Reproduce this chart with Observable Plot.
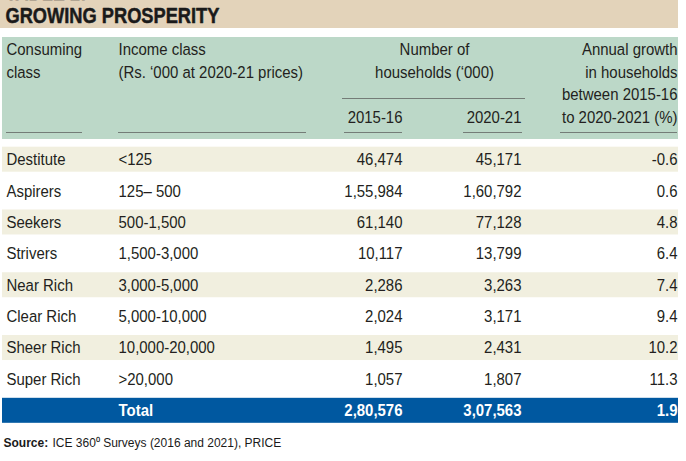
<!DOCTYPE html>
<html><head><meta charset="utf-8">
<script src="https://cdn.jsdelivr.net/npm/d3@7"></script>
<script src="https://cdn.jsdelivr.net/npm/@observablehq/plot@0.6"></script>
<style>body{margin:0;background:#fff;}</style>
</head><body><div id="chart"></div>
<script>
// ---- data ----
const tableLabel = "TABLE 2:";
const title = "GROWING PROSPERITY";
const classes = ["Destitute","Aspirers","Seekers","Strivers","Near Rich","Clear Rich","Sheer Rich","Super Rich"];
const incomeClass = ["<125","125\u2013 500","500-1,500","1,500-3,000","3,000-5,000","5,000-10,000","10,000-20,000",">20,000"];
const households2016 = [46474,155984,61140,10117,2286,2024,1495,1057];
const households2021 = [45171,160792,77128,13799,3263,3171,2431,1807];
const annualGrowth = [-0.6,0.6,4.8,6.4,7.4,9.4,10.2,11.3];
const totalLabel = "Total";
const total2016 = 280576, total2021 = 307563, totalGrowth = 1.9;
const headerCol1 = ["Consuming","class"];
const headerCol2 = ["Income class","(Rs. \u2018000 at 2020-21 prices)"];
const headerGroup = ["Number of","households (\u2018000)"];
const headerYears = ["2015-16","2020-21"];
const headerGrowth = ["Annual growth","in households","between 2015-16","to 2020-2021 (%)"];
const sourceBold = "Source:";
const sourceText = "ICE 360\u2070 Surveys (2016 and 2021), PRICE";

// ---- layout ----
const W = 686, H = 461;
const L = 2, R = 678;
const col = {c1: 6, c2: 118, c3: 402, c4: 521, c5: 677, grp: 434};
const headLineY = i => 49.2 + 22.5 * i;
const keys = classes.concat([totalLabel]);
const band = d3.scaleBand().domain(keys).range([143.5, 426]);
const rowY = k => band(k) + band.bandwidth() / 2;
const half = 12.5;
const sans = "Liberation Sans, Arial, Helvetica, sans-serif";
const ink = "#231f20";
const BODY_SIZE = 17, TITLE_SIZE = 22;
const BODY_SQUEEZE = 0.88, TITLE_SQUEEZE = 0.83;

function fmtIN(n) {
  const s = String(Math.round(n));
  if (s.length <= 3) return s;
  const last3 = s.slice(-3);
  const rest = s.slice(0, -3).replace(/\B(?=(\d{2})+(?!\d))/g, ",");
  return rest + "," + last3;
}

const rows = classes.map((c, i) => ({
  key: c, cls: c, income: incomeClass[i],
  a: households2016[i], b: households2021[i], g: annualGrowth[i], i
}));
const shaded = rows.filter(d => d.i % 2 === 0);
const totalRow = [{key: totalLabel, a: total2016, b: total2021, g: totalGrowth}];

const headStart = [
  ...headerCol1.map((t, i) => ({t, x: col.c1, line: i})),
  ...headerCol2.map((t, i) => ({t, x: col.c2, line: i}))
];
const headMiddle = headerGroup.map((t, i) => ({t, x: col.grp, line: i}));
const headEnd = [
  {t: headerYears[0], x: col.c3, line: 3},
  {t: headerYears[1], x: col.c4, line: 3},
  ...headerGrowth.map((t, i) => ({t, x: col.c5, line: i}))
];
const underlines = [
  {x1: 6, x2: 82, y: 132}, {x1: 118, x2: 306, y: 132},
  {x1: 344, x2: 402, y: 132}, {x1: 463, x2: 522, y: 132},
  {x1: 560, x2: 677, y: 132}, {x1: 342, x2: 525, y: 98}
];

const txt = (data, opts) => Plot.text(data, {fontFamily: sans, fontSize: BODY_SIZE, fill: ink, lineAnchor: "middle", ...opts});
const ttl = (data, y) => Plot.text(data, {x: () => 5, y: () => y, text: d => d, textAnchor: "start", lineAnchor: "middle", fontFamily: sans, fontWeight: "bold", fontSize: TITLE_SIZE, fill: "#1a1a1a", stroke: "#1a1a1a", strokeWidth: 0.5});

const chart = Plot.plot({
  width: W, height: H,
  marginTop: 0, marginRight: 0, marginBottom: 0, marginLeft: 0,
  x: {type: "identity", axis: null},
  y: {type: "identity", axis: null},
  style: {fontFamily: sans, background: "#fff"},
  marks: [
    // title band
    Plot.rect([0], {x1: () => 0, x2: () => R, y1: () => -5, y2: () => 28, fill: "#e3d3ba"}),
    ttl([tableLabel], -7.5),
    ttl([title], 15.5),
    // header band
    Plot.rect([0], {x1: () => L, x2: () => R, y1: () => 37, y2: () => 139, fill: "#bcd8c8"}),
    Plot.ruleY(underlines, {x1: "x1", x2: "x2", y: "y", stroke: "#555", strokeWidth: 0.7}),
    txt(headStart, {x: "x", y: d => headLineY(d.line), text: "t", textAnchor: "start"}),
    txt(headMiddle, {x: "x", y: d => headLineY(d.line), text: "t", textAnchor: "middle"}),
    txt(headEnd, {x: "x", y: d => headLineY(d.line), text: "t", textAnchor: "end"}),
    // row shading
    Plot.rect(shaded, {x1: () => L, x2: () => R, y1: d => rowY(d.key) - half, y2: d => rowY(d.key) + half, fill: "#f1efdf"}),
    Plot.rect(totalRow, {x1: () => L, x2: () => R, y1: d => rowY(d.key) - half, y2: d => rowY(d.key) + half, fill: "#0058a0"}),
    // rows
    txt(rows, {x: () => col.c1, y: d => rowY(d.key), text: "cls", textAnchor: "start"}),
    txt(rows, {x: () => col.c2, y: d => rowY(d.key), text: "income", textAnchor: "start"}),
    txt(rows, {x: () => col.c3, y: d => rowY(d.key), text: d => fmtIN(d.a), textAnchor: "end"}),
    txt(rows, {x: () => col.c4, y: d => rowY(d.key), text: d => fmtIN(d.b), textAnchor: "end"}),
    txt(rows, {x: () => col.c5, y: d => rowY(d.key), text: d => d.g.toFixed(1), textAnchor: "end"}),
    // total
    txt(totalRow, {x: () => col.c2, y: d => rowY(d.key), text: "key", textAnchor: "start", fill: "#fff", fontWeight: "bold"}),
    txt(totalRow, {x: () => col.c3, y: d => rowY(d.key), text: d => fmtIN(d.a), textAnchor: "end", fill: "#fff", fontWeight: "bold"}),
    txt(totalRow, {x: () => col.c4, y: d => rowY(d.key), text: d => fmtIN(d.b), textAnchor: "end", fill: "#fff", fontWeight: "bold"}),
    txt(totalRow, {x: () => col.c5, y: d => rowY(d.key), text: d => d.g.toFixed(1), textAnchor: "end", fill: "#fff", fontWeight: "bold"}),
    // source
    Plot.text([sourceBold], {x: () => 3, y: () => 443, text: d => d, textAnchor: "start", lineAnchor: "middle", fontFamily: sans, fontWeight: "bold", fontSize: 12, fill: "#1a1a1a"}),
    Plot.text([sourceText], {x: () => 52, y: () => 443, text: d => d, textAnchor: "start", lineAnchor: "middle", fontFamily: sans, fontSize: 12, fill: "#1a1a1a"})
  ]
});
// condensed look: squeeze text horizontally around each text's anchor point
function squeeze(size, k) {
  chart.querySelectorAll("text").forEach(el => {
    const g = el.closest("g");
    const fs = el.getAttribute("font-size") || (g && g.getAttribute("font-size"));
    if (fs === String(size)) {
      const t = el.getAttribute("transform") || "";
      el.setAttribute("transform", `${t} scale(${k},1)`);
    }
  });
}
squeeze(BODY_SIZE, BODY_SQUEEZE);
squeeze(TITLE_SIZE, TITLE_SQUEEZE);
document.getElementById("chart").appendChild(chart);
</script></body></html>
